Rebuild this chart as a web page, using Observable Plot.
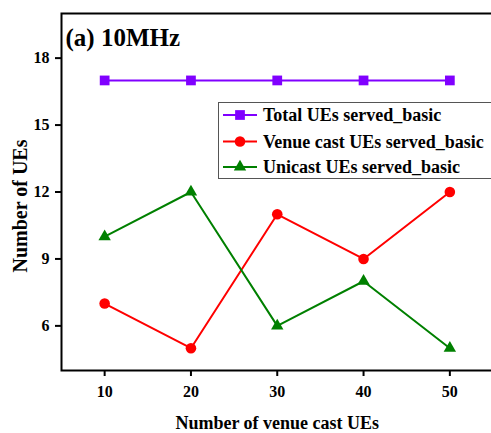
<!DOCTYPE html>
<html>
<head>
<meta charset="utf-8">
<script src="https://cdn.jsdelivr.net/npm/d3@7"></script>
<script src="https://cdn.jsdelivr.net/npm/@observablehq/plot@0.6"></script>
<style>
  html, body { margin: 0; padding: 0; overflow: hidden; background: #fff; }
  #chart { position: relative; width: 491px; height: 433px; overflow: hidden; }
  #chart svg { max-width: none !important; }
  #legend { position: absolute; left: 218px; top: 102px; }
</style>
</head>
<body>
<div id="chart"></div>
<script>
// Number of venue cast UEs (x) and UEs served per scheme (y)
const venueCastUEs = [10, 20, 30, 40, 50];
const totalServed = [17, 17, 17, 17, 17];
const venueCastServed = [7, 5, 11, 9, 12];
const unicastServed = [10, 12, 6, 8, 5];

const seriesNames = ["Total UEs served_basic", "Venue cast UEs served_basic", "Unicast UEs served_basic"];
const seriesColors = ["#8000ff", "#ff0000", "#008000"];
const seriesSymbols = ["square", "circle", "triangle"];
const seriesRadius = [5.5, 5.3, 4.6];

const xTicks = [10, 20, 30, 40, 50];
const yTicks = [6, 9, 12, 15, 18];

const serif = '"Times New Roman", "Liberation Serif", serif';

const seriesValues = [totalServed, venueCastServed, unicastServed];
const rows = seriesValues.flatMap((vals, s) =>
  vals.map((v, i) => ({series: seriesNames[s], x: venueCastUEs[i], y: v}))
);

const lineMarks = seriesNames.flatMap((name, s) => {
  const data = rows.filter(d => d.series === name);
  return [
    Plot.line(data, {x: "x", y: "y", stroke: seriesColors[s], strokeWidth: 2}),
    Plot.dot(data, {x: "x", y: "y", fill: seriesColors[s], stroke: "none", symbol: seriesSymbols[s], r: seriesRadius[s]})
  ];
});

const chart = Plot.plot({
  width: 494,
  height: 433,
  marginTop: 13,
  marginBottom: 63,
  marginLeft: 61,
  marginRight: 1.5,
  style: {fontFamily: serif, fontWeight: "bold", fontSize: "16px", color: "#000", background: "#fff", maxWidth: "none"},
  x: {domain: [5, 55]},
  y: {domain: [4, 20]},
  marks: [
    Plot.axisX({ticks: xTicks, tickSize: 6, tickPadding: 9, strokeWidth: 2, label: null}),
    Plot.axisY({ticks: yTicks, tickSize: 6, tickPadding: 6, strokeWidth: 2, label: null}),
    ...lineMarks,
    Plot.frame({stroke: "#000", strokeWidth: 2}),
    Plot.text(["(a) 10MHz"], {frameAnchor: "top-left", textAnchor: "start", lineAnchor: "bottom", dx: 4, dy: 32, fontSize: 25, fill: "#000"}),
    Plot.text(["Number of venue cast UEs"], {frameAnchor: "bottom", textAnchor: "middle", lineAnchor: "bottom", dy: 58, fontSize: 18, fill: "#000"}),
    Plot.text(["Number of UEs"], {frameAnchor: "left", textAnchor: "middle", rotate: -90, lineAnchor: "bottom", dx: -35, dy: 14, fontSize: 20, fill: "#000"})
  ]
});

const container = document.getElementById("chart");
container.appendChild(chart);

// Legend box with line-and-marker swatches
const legend = d3.select(container).append("svg")
  .attr("id", "legend")
  .attr("width", 290)
  .attr("height", 77)
  .style("font-family", serif)
  .style("font-weight", "bold")
  .style("font-size", "18px");

legend.append("rect")
  .attr("x", 0.5).attr("y", 0.5)
  .attr("width", 300).attr("height", 76)
  .attr("fill", "#fff").attr("stroke", "#555").attr("stroke-width", 1);

const symbolTypes = {square: d3.symbolSquare, circle: d3.symbolCircle, triangle: d3.symbolTriangle};
const rowY = [13, 39.5, 65];

seriesNames.forEach((name, s) => {
  const g = legend.append("g").attr("transform", `translate(0,${rowY[s]})`);
  g.append("line").attr("x1", 5).attr("x2", 39).attr("y1", 0).attr("y2", 0)
    .attr("stroke", seriesColors[s]).attr("stroke-width", 2);
  g.append("path")
    .attr("transform", "translate(22,0)")
    .attr("d", d3.symbol(symbolTypes[seriesSymbols[s]], Math.PI * seriesRadius[s] ** 2)())
    .attr("fill", seriesColors[s]);
  g.append("text").attr("x", 45).attr("y", 0).attr("dy", "0.35em").attr("fill", "#000").text(name);
});
</script>
</body>
</html>
